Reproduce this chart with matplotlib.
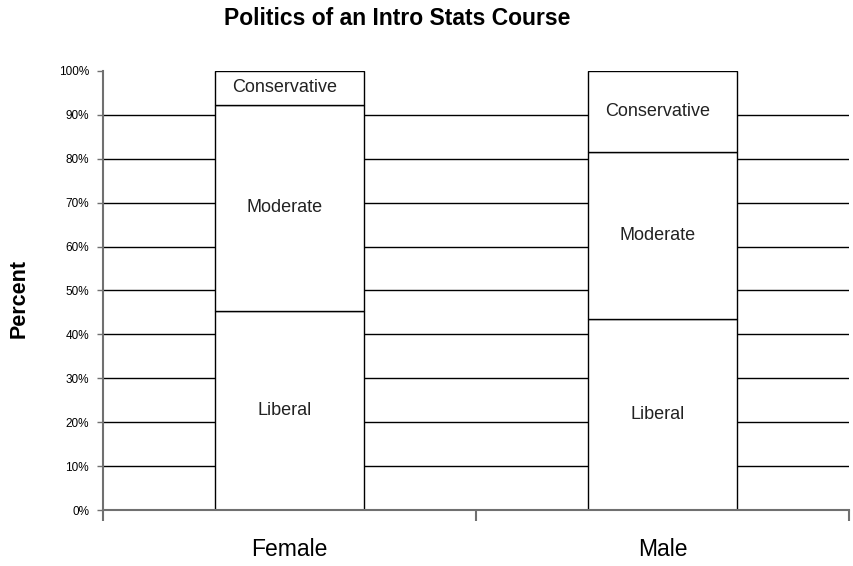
import matplotlib.pyplot as plt
import numpy as np
from matplotlib.ticker import PercentFormatter

plt.rcParams['font.family'] = ['Liberation Sans', 'DejaVu Sans']

groups = ["Female", "Male"]
categories = ["Liberal", "Moderate", "Conservative"]
liberal = [45.4, 43.5]
moderate = [46.9, 38.0]
conservative = [7.7, 18.5]
yticks = np.arange(0, 101, 10)

fig = plt.figure(figsize=(8.54, 5.66), dpi=100)
ax = fig.add_axes([0.1206, 0.0989, 0.8734, 0.7757])

x = np.arange(len(groups))
width = 0.4

# horizontal grid lines 10%..90%
for t in yticks[1:-1]:
    ax.axhline(t, color="black", linewidth=1, zorder=1)

bottom = np.zeros(len(groups))
for name, vals in zip(categories, [liberal, moderate, conservative]):
    vals = np.array(vals)
    ax.bar(x, vals, width, bottom=bottom, color="white", edgecolor="black",
           linewidth=1, zorder=2)
    # labels sit a touch left of bar centre, as in the original
    for xi, b, v in zip(x, bottom, vals):
        ax.text(xi - 0.014, b + v / 2, name, ha="center", va="center",
                fontsize=13, color="#222222", zorder=3)
    bottom += vals

ax.set_xlim(-0.5, 1.5)
ax.set_ylim(0, 100)
ax.set_yticks(yticks)
ax.yaxis.set_major_formatter(PercentFormatter(decimals=0))
ax.tick_params(axis="y", labelsize=8.5, length=4, width=1, color="#707070", pad=6)

ax.set_xticks([-0.5, 0.5, 1.5])
ax.set_xticklabels([])
ax.tick_params(axis="x", length=8, width=1.5, color="#707070", direction="out")
for xi, g in zip(x, groups):
    ax.text(xi, -9.0, g, ha="center", va="center", fontsize=16.5,
            transform=ax.transData)

for s in ["top", "right"]:
    ax.spines[s].set_visible(False)
for s in ["left", "bottom"]:
    ax.spines[s].set_color("#707070")
    ax.spines[s].set_linewidth(1.5)

fig.text(0.465, 0.968, "Politics of an Intro Stats Course", ha="center",
         va="center", fontsize=16.5, fontweight="bold")
fig.text(0.022, 0.473, "Percent", rotation=90, ha="center", va="center",
         fontsize=15.5, fontweight="bold")

fig.savefig("out.png", dpi=100)
